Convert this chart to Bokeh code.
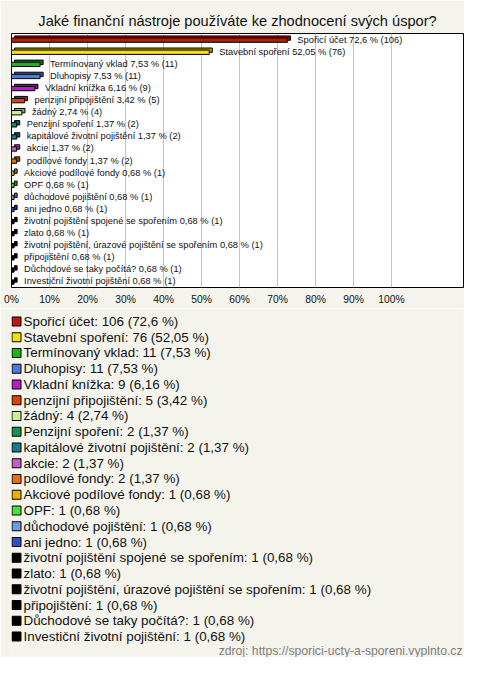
from bokeh.plotting import figure
from bokeh.models import Range1d, FactorRange, ColumnDataSource, FixedTicker, Label
from bokeh.layouts import column
from bokeh.transform import dodge
from bokeh.core.properties import value
from bokeh.embed import file_html
from bokeh.resources import INLINE

# ---------------- data ----------------
title_text = "Jaké finanční nástroje používáte ke zhodnocení svých úspor?"
source_text = "zdroj: https://sporici-ucty-a-sporeni.vyplnto.cz"

categories = [
    "Spořicí účet", "Stavební spoření", "Termínovaný vklad", "Dluhopisy",
    "Vkladní knížka", "penzijní připojištění", "žádný", "Penzijní spoření",
    "kapitálové životní pojištění", "akcie", "podílové fondy",
    "Akciové podílové fondy", "OPF", "důchodové pojištění", "ani jedno",
    "životní pojištění spojené se spořením", "zlato",
    "životní pojištění, úrazové pojištění se spořením", "připojištění",
    "Důchodové se taky počítá?", "Investiční životní pojištění",
]
counts = [106, 76, 11, 11, 9, 5, 4, 2, 2, 2, 2, 1, 1, 1, 1, 1, 1, 1, 1, 1, 1]
percents = [72.6, 52.05, 7.53, 7.53, 6.16, 3.42, 2.74, 1.37, 1.37, 1.37, 1.37,
            0.68, 0.68, 0.68, 0.68, 0.68, 0.68, 0.68, 0.68, 0.68, 0.68]
percent_texts = ["72,6", "52,05", "7,53", "7,53", "6,16", "3,42", "2,74", "1,37",
                 "1,37", "1,37", "1,37", "0,68", "0,68", "0,68", "0,68", "0,68",
                 "0,68", "0,68", "0,68", "0,68", "0,68"]
colors = ["#c0180c", "#f5e100", "#1db41d", "#4a7be0", "#b41ec8", "#e0400c",
          "#c8f08c", "#16915a", "#1b7a8c", "#c060c0", "#e27010", "#e8b000",
          "#44e044", "#6e9be0", "#3050c0", "#000000", "#000000", "#000000",
          "#000000", "#000000", "#000000"]
x_ticks = [0, 10, 20, 30, 40, 50, 60, 70, 80, 90, 100]
x_tick_labels = ["0%", "10%", "20%", "30%", "40%", "50%", "60%", "70%", "80%", "90%", "100%"]

# ---------------- styling ----------------
BG = "#f4f4ec"
FONT = "Liberation Sans"
W = 464
FRAME_L, FRAME_R = 11, 463   # pixel extent of the (column-aligned) frames


def darker(hex_color, f=0.7):
    r, g, b = (int(hex_color[i:i + 2], 16) for i in (1, 3, 5))
    return "#%02x%02x%02x" % (int(r * f), int(g * f), int(b * f))


bar_labels = ["%s %s %% (%d)" % (c, p, n) for c, p, n in zip(categories, percent_texts, counts)]
legend_labels = ["%s: %d (%s %%)" % (c, n, p) for c, p, n in zip(categories, percent_texts, counts)]

src = ColumnDataSource(dict(
    cat=categories, pct=percents, color=colors,
    dark=[darker(c) for c in colors], label=bar_labels,
    legend=legend_labels, idx=list(range(len(categories))),
))

# ---------------- bar chart ----------------
p = figure(width=W, height=308, output_backend="svg", toolbar_location=None,
           x_range=Range1d(0, 118.95),
           y_range=FactorRange(factors=categories[::-1], range_padding=0),
           min_border_left=FRAME_L, min_border_right=W - FRAME_R,
           min_border_top=33, min_border_bottom=21)
p.background_fill_color = "white"
p.border_fill_color = BG
p.outline_line_color = "black"
p.outline_line_width = 1

p.title.text = title_text
p.title.align = "center"
p.title.text_font = FONT
p.title.text_font_size = "14.6px"
p.title.text_font_style = "normal"
p.title.text_color = "#111111"
p.title.standoff = 9

p.yaxis.visible = False
p.ygrid.grid_line_color = None
p.xgrid.ticker = FixedTicker(ticks=x_ticks)
p.xgrid.grid_line_color = "#c4c4c4"
p.xaxis.ticker = FixedTicker(ticks=x_ticks)
p.xaxis.major_label_overrides = {t: l for t, l in zip(x_ticks, x_tick_labels)}
p.xaxis.axis_line_color = None
p.xaxis.major_tick_line_color = None
p.xaxis.minor_tick_line_color = None
p.xaxis.major_tick_out = 0
p.xaxis.major_tick_in = 0
p.xaxis.minor_tick_out = 0
p.xaxis.major_label_standoff = 6
p.xaxis.major_label_text_font = FONT
p.xaxis.major_label_text_font_size = "10.3px"
p.xaxis.major_label_text_color = "#111111"

# 3D depth (back face) then front face
p.hbar(y=dodge("cat", 0.12, range=p.y_range), left=0.8,
       right=dodge("pct", 0.8), height=0.36, source=src,
       fill_color="dark", line_color="black", line_width=1)
p.hbar(y=dodge("cat", -0.05, range=p.y_range), left=0, right="pct",
       height=0.36, source=src, fill_color="color", line_color="black",
       line_width=1)
p.text(x="pct", y="cat", text="label", source=src, x_offset=10,
       text_baseline="middle", text_align="left", text_font=value(FONT),
       text_font_size="9.3px", text_color="#111111")

# ---------------- legend ----------------
q = figure(width=W, height=349, output_backend="svg", toolbar_location=None,
           x_range=Range1d(FRAME_L, FRAME_R), y_range=Range1d(21.333, -0.825),
           x_axis_location=None, y_axis_location=None,
           min_border_left=FRAME_L, min_border_right=W - FRAME_R,
           min_border_top=0, min_border_bottom=0)
q.background_fill_color = BG
q.border_fill_color = BG
q.outline_line_color = None
q.xgrid.visible = False
q.ygrid.visible = False

q.rect(x=16, y="idx", width=9, height=9, width_units="screen",
       height_units="screen", source=src, fill_color="color",
       line_color="black", line_width=1)
q.text(x=23, y="idx", text="legend", source=src, text_baseline="middle",
       text_align="left", text_font=value(FONT), text_font_size="13.4px",
       text_color="#111111")
q.add_layout(Label(x=462, y=20.92, text=source_text, text_align="right",
                   text_baseline="middle", text_font=FONT,
                   text_font_size="12.2px", text_color="#808080"))

layout = column(p, q, spacing=0)
open("out.html", "w").write(file_html(layout, INLINE))
